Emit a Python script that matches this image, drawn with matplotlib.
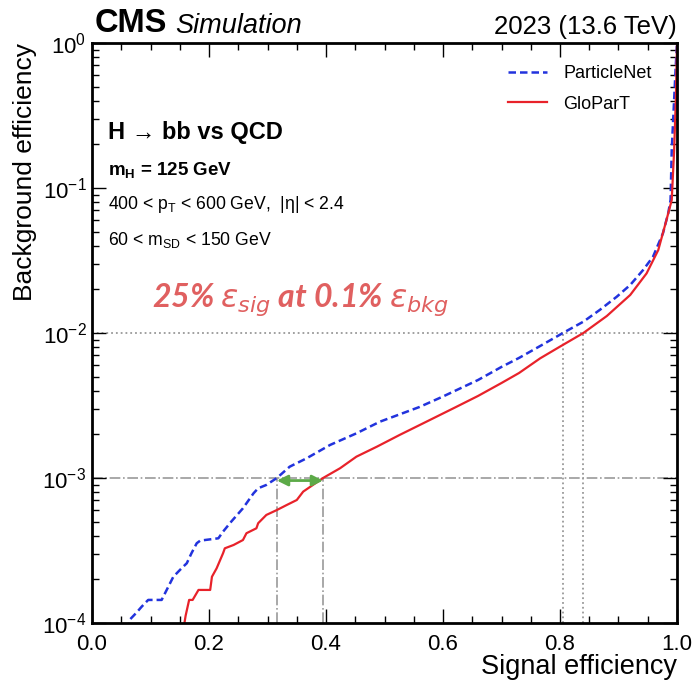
import numpy as np
import matplotlib
matplotlib.use("Agg")
import matplotlib.pyplot as plt
from matplotlib.ticker import MultipleLocator, LogLocator, NullFormatter

plt.rcParams['font.family'] = ['Liberation Sans', 'DejaVu Sans']
plt.rcParams['mathtext.fontset'] = 'custom'
plt.rcParams['mathtext.rm'] = 'Liberation Sans'
plt.rcParams['mathtext.it'] = 'Liberation Sans:italic'
plt.rcParams['mathtext.bf'] = 'Liberation Sans:bold'

# ParticleNet ROC (signal eff, background eff)
pn_sig = [0.062, 0.065, 0.076, 0.085, 0.096, 0.119, 0.139, 0.153, 0.162, 0.170,
          0.179, 0.185, 0.216, 0.224, 0.238, 0.258, 0.276, 0.284, 0.298, 0.316,
          0.338, 0.367, 0.407, 0.452, 0.492, 0.560, 0.600, 0.660, 0.700, 0.730,
          0.766, 0.806, 0.840, 0.868, 0.897, 0.920, 0.942, 0.959, 0.976, 0.985,
          0.989, 0.991, 0.995, 0.998, 1.0]
pn_bkg = [8.91e-5, 1.059e-4, 1.178e-4, 1.297e-4, 1.442e-4, 1.442e-4, 2.084e-4, 2.382e-4, 2.582e-4, 3.027e-4,
          3.548e-4, 3.698e-4, 3.837e-4, 4.266e-4, 5.0e-4, 6.18e-4, 7.834e-4, 8.492e-4, 8.954e-4, 1.0e-3,
          1.197e-3, 1.368e-3, 1.69e-3, 2.032e-3, 2.443e-3, 3.09e-3, 3.648e-3, 4.742e-3, 5.834e-3, 6.73e-3,
          8.128e-3, 1.005e-2, 1.197e-2, 1.442e-2, 1.778e-2, 2.143e-2, 2.716e-2, 3.357e-2, 4.875e-2, 6.699e-2,
          8.26e-2, 0.1828, 0.398, 0.708, 1.0]

# GloParT ROC
gp_sig = [0.156, 0.160, 0.166, 0.172, 0.182, 0.202, 0.205, 0.213, 0.224, 0.227,
          0.242, 0.258, 0.264, 0.281, 0.284, 0.298, 0.316, 0.333, 0.350, 0.361,
          0.390, 0.395, 0.424, 0.452, 0.487, 0.526, 0.566, 0.620, 0.660, 0.700,
          0.730, 0.766, 0.800, 0.840, 0.880, 0.920, 0.948, 0.968, 0.982, 0.991,
          0.995, 0.998, 1.0]
gp_bkg = [8.91e-5, 1.122e-4, 1.442e-4, 1.442e-4, 1.69e-4, 1.69e-4, 2.084e-4, 2.382e-4, 3.027e-4, 3.273e-4,
          3.451e-4, 3.733e-4, 4.159e-4, 4.498e-4, 4.875e-4, 5.559e-4, 6.012e-4, 6.516e-4, 7.047e-4, 8.054e-4,
          9.683e-4, 1.0e-3, 1.167e-3, 1.403e-3, 1.644e-3, 1.982e-3, 2.382e-3, 3.055e-3, 3.681e-3, 4.519e-3,
          5.297e-3, 6.683e-3, 8.054e-3, 1.0e-2, 1.309e-2, 1.828e-2, 2.576e-2, 3.733e-2, 6.012e-2, 8.26e-2,
          0.178, 0.398, 1.0]

# working points
wp_bkg = [1e-3, 1e-2]
pn_wp_sig = [0.316, 0.805]
gp_wp_sig = [0.395, 0.840]

fig = plt.figure(figsize=(6.94, 6.81), dpi=100)
ax = fig.add_axes([0.1326, 0.0852, 0.8429, 0.8517])

ax.plot(pn_sig, pn_bkg, color='#2233dd', ls=(0, (3, 1.6)), lw=1.8, label='ParticleNet')
ax.plot(gp_sig, gp_bkg, color='#e8222a', ls='-', lw=1.6, label='GloParT')

grey = '#999999'
# 0.1% working point: dash-dot
ax.axhline(wp_bkg[0], color=grey, ls='-.', lw=1.2, zorder=0)
ax.plot([pn_wp_sig[0]] * 2, [1e-4, wp_bkg[0]], color=grey, ls='-.', lw=1.2, zorder=0)
ax.plot([gp_wp_sig[0]] * 2, [1e-4, wp_bkg[0]], color=grey, ls='-.', lw=1.2, zorder=0)
# 1% working point: dotted
ax.axhline(wp_bkg[1], color=grey, ls=':', lw=1.3, zorder=0)
ax.plot([pn_wp_sig[1]] * 2, [1e-4, wp_bkg[1]], color=grey, ls=':', lw=1.3, zorder=0)
ax.plot([gp_wp_sig[1]] * 2, [1e-4, wp_bkg[1]], color=grey, ls=':', lw=1.3, zorder=0)

ax.annotate('', xy=(gp_wp_sig[0], wp_bkg[0] * 0.96), xytext=(pn_wp_sig[0], wp_bkg[0] * 0.96),
            arrowprops=dict(arrowstyle='<|-|>', color='#5caa48', lw=2, mutation_scale=16,
                            shrinkA=0, shrinkB=0))

ax.set_xlim(0, 1)
ax.set_yscale('log')
ax.set_ylim(1e-4, 1)

ax.xaxis.set_major_locator(MultipleLocator(0.2))
ax.xaxis.set_minor_locator(MultipleLocator(0.05))
ax.xaxis.set_major_formatter(matplotlib.ticker.FormatStrFormatter('%.1f'))
ax.yaxis.set_major_locator(LogLocator(base=10, numticks=10))
ax.yaxis.set_minor_locator(LogLocator(base=10, subs=np.arange(2, 10), numticks=20))
ax.yaxis.set_minor_formatter(NullFormatter())
ax.tick_params(which='both', direction='in', top=True, right=True, labelsize=16, width=1)
ax.tick_params(which='major', length=10)
ax.tick_params(which='minor', length=5)
ax.tick_params(axis='x', pad=8)
ax.tick_params(axis='y', pad=4)
for s in ax.spines.values():
    s.set_linewidth(2)

# x title placed in figure coords so it stays inside the canvas
fig.text(0.9755, 0.010, 'Signal efficiency', fontsize=19.5, ha='right', va='baseline')
ax.set_ylabel('Background efficiency', fontsize=19, loc='top')

ax.text(0.004, 1.006, 'CMS', transform=ax.transAxes, fontsize=23.5, fontweight='bold', va='bottom')
ax.text(0.142, 1.006, 'Simulation', transform=ax.transAxes, fontsize=19.5, style='italic', va='bottom')
ax.text(1.0, 1.006, '2023 (13.6 TeV)', transform=ax.transAxes, fontsize=18.5, ha='right', va='bottom')

ax.text(0.028, 0.845, 'H \u2192 bb vs QCD', transform=ax.transAxes, fontsize=17, fontweight='bold', va='center')
ax.text(0.028, 0.781, r'$\mathbf{m_H}$ = 125 GeV', transform=ax.transAxes, fontsize=13.5, fontweight='bold', va='center')
ax.text(0.028, 0.722, '400 < p$_\\mathrm{T}$ < 600 GeV,  |\u03b7| < 2.4', transform=ax.transAxes, fontsize=12.7, va='center')
ax.text(0.028, 0.660, r'60 < m$_\mathrm{SD}$ < 150 GeV', transform=ax.transAxes, fontsize=12.7, va='center')

ax.text(0.103, 0.558, r'25% $\epsilon_{sig}$ at 0.1% $\epsilon_{bkg}$', transform=ax.transAxes,
        fontsize=23, color='#e06060', fontweight='bold', style='italic', va='center',
        family='Lato', math_fontfamily='dejavusans')

ax.legend(loc='upper right', frameon=False, fontsize=13, handlelength=2.2, handletextpad=0.9,
          bbox_to_anchor=(0.985, 0.99), labelspacing=0.75)

fig.savefig('out.png', dpi=100)
